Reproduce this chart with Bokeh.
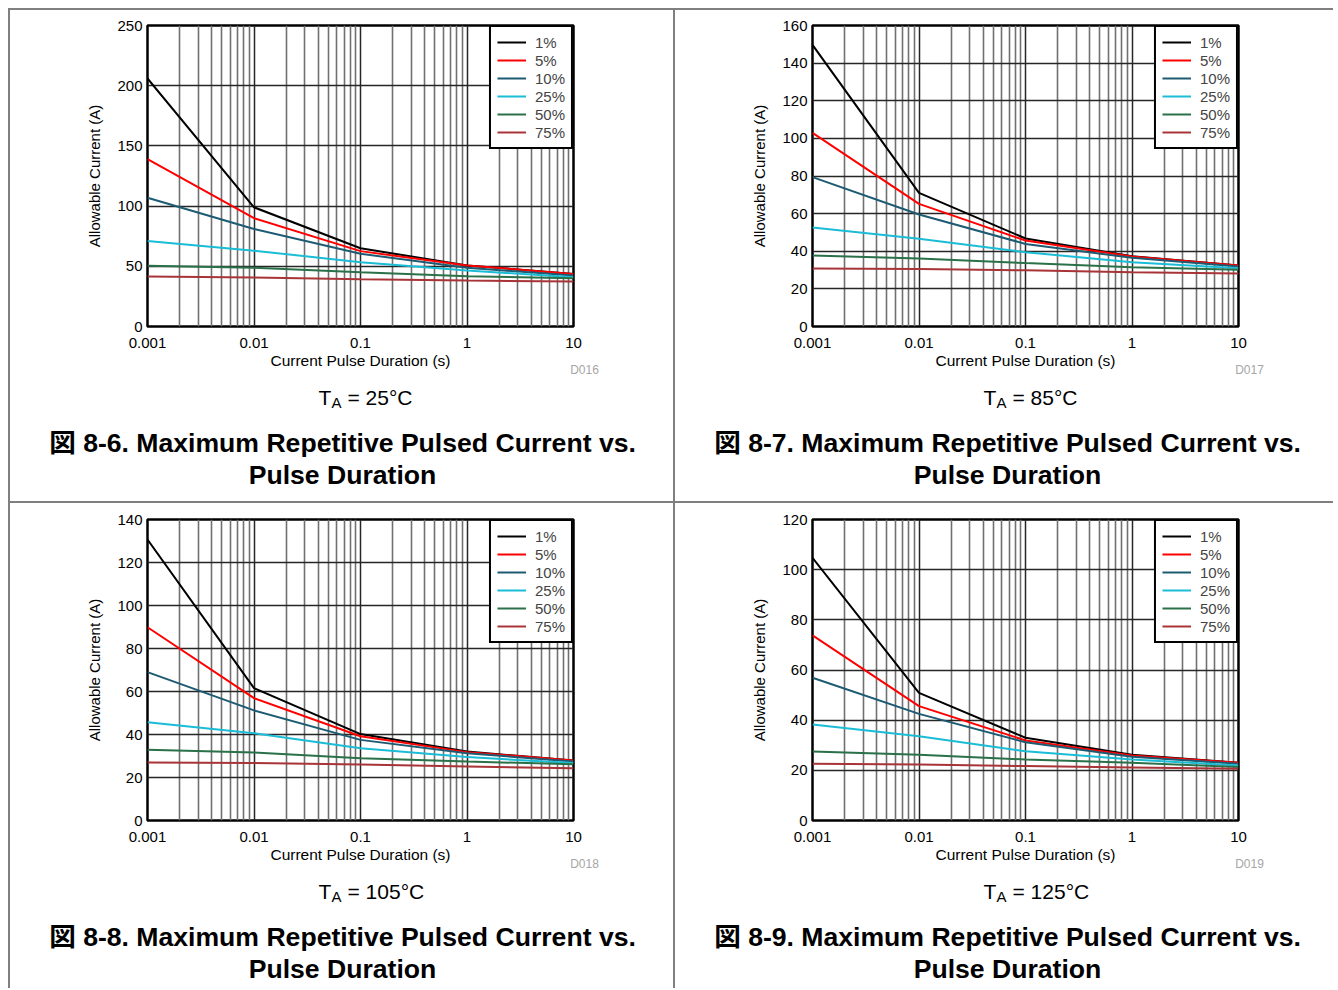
from bokeh.plotting import figure
from bokeh.layouts import row, column
from bokeh.models import Range1d, FixedTicker, Legend, LegendItem
from bokeh.core.properties import value
from bokeh.embed import file_html
from bokeh.resources import INLINE

# ---------------- data ----------------
durations = [0.001, 0.01, 0.1, 1, 10]          # current pulse duration (s)
duty_cycles = ["1%", "5%", "10%", "25%", "50%", "75%"]
line_colors = ["#000000", "#ff0000", "#1d5b73", "#1abcd6", "#2a7048", "#a83438"]

x_ticks = [0.001, 0.01, 0.1, 1, 10]
x_tick_labels = ["0.001", "0.01", "0.1", "1", "10"]
x_minor_multipliers = [2, 3, 4, 5, 6, 7, 8, 9]

# allowable current (A), one list per duty cycle, order as duty_cycles
current_25c = [
    [206, 99, 65, 50.7, 43.7],
    [139, 90, 62.6, 50.7, 43.7],
    [107, 81, 60.4, 48.7, 42.4],
    [71, 63, 53.4, 46.5, 41],
    [50.4, 48.7, 45.1, 41.8, 40.1],
    [41.5, 40.7, 39.3, 38.2, 37.4],
]
current_85c = [
    [149.7, 71, 46.8, 37.4, 32.4],
    [102.9, 65.2, 45.7, 37.2, 32.4],
    [79.4, 59.5, 43.9, 36.5, 31.9],
    [52.6, 46.6, 39.5, 34.2, 31],
    [37.7, 36.1, 33.7, 31.5, 30.1],
    [30.8, 30.5, 29.9, 28.9, 28.2],
]
current_105c = [
    [130.7, 61.6, 40.2, 32.1, 27.9],
    [89.9, 56.9, 39.2, 31.8, 27.9],
    [69, 51.2, 37.5, 31.3, 27.4],
    [45.7, 40.6, 33.6, 29.5, 26.7],
    [32.9, 31.6, 29, 27.4, 26.2],
    [27, 26.7, 26, 25.1, 24.3],
]
current_125c = [
    [104.7, 50.9, 33, 26.2, 23],
    [73.8, 45.6, 31.9, 25.9, 23],
    [56.9, 42.5, 31.2, 25.4, 22.6],
    [38.3, 33.6, 27.6, 24.3, 21.9],
    [27.5, 26.2, 24.3, 23, 21.3],
    [22.6, 22.3, 21.7, 21.1, 20.6],
]

panel_series = [current_25c, current_85c, current_105c, current_125c]
y_max = [250, 160, 140, 120]
y_step = [50, 20, 20, 20]
temperatures = ["25°C", "85°C", "105°C", "125°C"]
drawing_ids = ["D016", "D017", "D018", "D019"]
figure_numbers = ["8-6", "8-7", "8-8", "8-9"]

x_label = "Current Pulse Duration (s)"
y_label = "Allowable Current (A)"
title_line1 = "図 {}. Maximum Repetitive Pulsed Current vs."
title_line2 = "Pulse Duration"

FONT = "Liberation Sans, Arial, Helvetica, sans-serif"
TITLE_FONT = "Liberation Sans, Arial, Noto Sans CJK JP, sans-serif"
BORDER = "2px solid #7f7f7f"

FRAME_W = 426
FRAME_H = 301
LEFT = 137


def make_panel(k, width, top):
    series = panel_series[k]
    bottom = 28
    p = figure(
        width=width, height=top + FRAME_H + bottom,
        x_axis_type="log",
        x_range=Range1d(durations[0], durations[-1]),
        y_range=Range1d(0, y_max[k]),
        output_backend="svg", toolbar_location=None, title=None,
        min_border_left=LEFT, min_border_right=width - LEFT - FRAME_W,
        min_border_top=top, min_border_bottom=bottom,
        background_fill_color="white", border_fill_color="white",
    )
    p.outline_line_color = "black"
    p.outline_line_width = 2.5
    p.outline_line_alpha = 1.0

    minor = [m * d for d in x_ticks[:-1] for m in x_minor_multipliers]
    p.xaxis.ticker = FixedTicker(ticks=x_ticks, minor_ticks=minor)
    p.xaxis.major_label_overrides = {t: s for t, s in zip(x_ticks, x_tick_labels)}
    p.yaxis.ticker = FixedTicker(ticks=list(range(0, y_max[k] + 1, y_step[k])))

    for ax in (p.xaxis, p.yaxis):
        ax.axis_line_color = None
        ax.major_tick_line_color = None
        ax.minor_tick_line_color = None
        ax.major_tick_out = 0
        ax.major_tick_in = 0
        ax.minor_tick_out = 0
        ax.minor_tick_in = 0
        ax.major_label_text_font = FONT
        ax.major_label_text_font_size = "15px"
        ax.major_label_text_color = "black"
        ax.axis_label_text_font = FONT
        ax.axis_label_text_font_size = "15px"
        ax.axis_label_text_font_style = "normal"
        ax.axis_label_text_color = "black"
    p.yaxis.axis_label = y_label
    p.xaxis.major_label_standoff = 11
    p.yaxis.major_label_standoff = 5
    p.yaxis.axis_label_standoff = 11

    p.xgrid.grid_line_color = "#262626"
    p.xgrid.grid_line_width = 1.5
    p.xgrid.minor_grid_line_color = "#707070"
    p.xgrid.minor_grid_line_width = 1.6
    p.ygrid.grid_line_color = "#262626"
    p.ygrid.grid_line_width = 1.5

    items = []
    for lbl, col, ys in zip(duty_cycles, line_colors, series):
        r = p.line(durations, ys, line_color=col, line_width=2)
        items.append(LegendItem(label=lbl, renderers=[r]))
    legend = Legend(
        items=items, location="top_right", margin=0, padding=6, spacing=0,
        glyph_width=29, glyph_height=18, label_height=18, label_standoff=9,
        label_text_font=FONT, label_text_font_size="15px",
        border_line_color="black", border_line_width=2, border_line_alpha=1,
        background_fill_color="white", background_fill_alpha=1,
    )
    p.add_layout(legend, "center")
    p.styles = {"border-left": BORDER, "border-top": BORDER}
    return p


def make_caption(k, width, height):
    c = figure(
        width=width, height=height,
        x_range=Range1d(0, width), y_range=Range1d(height, 0),
        x_axis_type=None, y_axis_type=None,
        output_backend="svg", toolbar_location=None, title=None,
        min_border=0, min_border_left=0, min_border_right=0,
        min_border_top=0, min_border_bottom=0,
        background_fill_color="white", border_fill_color="white",
    )
    c.outline_line_color = None

    def txt(x, y, s, size, font=FONT, color="black", align="left", style="normal"):
        c.text(x=[x], y=[y], text=[s], text_font=value(font),
               text_font_size=value(size), text_color=color, text_align=align,
               text_baseline="middle", text_font_style=style)

    txt(350, 8, x_label, "15.5px", align="center")
    txt(574, 17, drawing_ids[k], "12px", color="#a6a6a6", align="center")
    txt(308, 45, "T", "21px")
    txt(321, 50, "A", "15px")
    txt(337, 45, "= " + temperatures[k], "21px")
    txt(332, 90, title_line1.format(figure_numbers[k]), "26.6px",
        font=TITLE_FONT, align="center", style="bold")
    txt(332, 122, title_line2, "26.6px", font=TITLE_FONT, align="center", style="bold")
    c.styles = {"border-left": BORDER}
    return c


W1, W2 = 665, 660
layout = column(
    row(make_panel(0, W1, 15), make_panel(1, W2, 15)),
    row(make_caption(0, W1, 149), make_caption(1, W2, 149)),
    row(make_panel(2, W1, 16), make_panel(3, W2, 16)),
    row(make_caption(2, W1, 142), make_caption(3, W2, 142)),
)
layout.styles = {"margin-left": "8px", "margin-top": "8px"}

open("out.html", "w").write(file_html(layout, INLINE))
